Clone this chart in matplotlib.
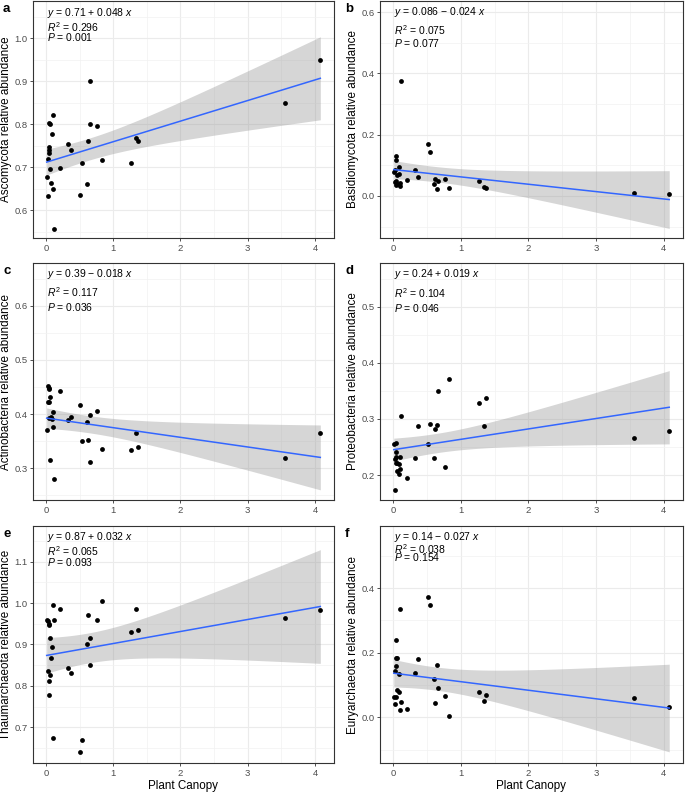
import numpy as np
import matplotlib
matplotlib.use("Agg")
import matplotlib.pyplot as plt
from matplotlib.ticker import MultipleLocator

plt.rcParams["font.family"] = ["Liberation Sans", "DejaVu Sans"]
plt.rcParams["mathtext.fontset"] = "custom"
plt.rcParams["mathtext.rm"] = "Liberation Sans"
plt.rcParams["mathtext.it"] = "Liberation Sans:italic"

# plant canopy (shared by every panel)
canopy = [0.01, 0.03, 0.03, 0.04, 0.04, 0.05, 0.05, 0.06, 0.06, 0.08,
          0.09, 0.10, 0.10, 0.12, 0.21, 0.32, 0.37, 0.51, 0.54, 0.61,
          0.62, 0.65, 0.66, 0.76, 0.83, 1.27, 1.34, 1.37, 3.56, 4.08]

ascomycota = [0.678, 0.634, 0.720, 0.747, 0.803, 0.740, 0.733, 0.800, 0.697, 0.664,
              0.777, 0.821, 0.650, 0.558, 0.699, 0.753, 0.741, 0.635, 0.711, 0.662,
              0.760, 0.900, 0.801, 0.795, 0.717, 0.711, 0.769, 0.762, 0.850, 0.949]
basidiomycota = [0.078, 0.086, 0.045, 0.035, 0.050, 0.131, 0.118, 0.069, 0.040, 0.073,
                 0.096, 0.042, 0.032, 0.376, 0.051, 0.084, 0.062, 0.168, 0.142, 0.040,
                 0.056, 0.022, 0.050, 0.054, 0.026, 0.048, 0.030, 0.025, 0.011, 0.005]
actinobacteria = [0.370, 0.452, 0.423, 0.393, 0.448, 0.447, 0.423, 0.432, 0.315, 0.395,
                  0.391, 0.404, 0.376, 0.280, 0.442, 0.390, 0.395, 0.417, 0.351, 0.385,
                  0.352, 0.398, 0.312, 0.405, 0.336, 0.334, 0.366, 0.339, 0.320, 0.365]
proteobacteria = [0.255, 0.173, 0.228, 0.221, 0.233, 0.258, 0.241, 0.221, 0.208, 0.219,
                  0.201, 0.232, 0.210, 0.305, 0.195, 0.230, 0.287, 0.256, 0.291, 0.230,
                  0.282, 0.289, 0.349, 0.214, 0.371, 0.329, 0.287, 0.337, 0.266, 0.279]
thaumarchaeota = [0.960, 0.956, 0.836, 0.812, 0.950, 0.946, 0.778, 0.916, 0.826, 0.866,
                  0.894, 0.995, 0.674, 0.960, 0.985, 0.842, 0.830, 0.639, 0.670, 0.900,
                  0.971, 0.850, 0.915, 0.960, 1.006, 0.930, 0.986, 0.934, 0.964, 0.982]
euryarchaeota = [0.062, 0.143, 0.041, 0.159, 0.062, 0.182, 0.240, 0.185, 0.085, 0.133,
                 0.077, 0.021, 0.334, 0.048, 0.026, 0.138, 0.179, 0.373, 0.347, 0.119,
                 0.044, 0.163, 0.092, 0.065, 0.004, 0.079, 0.049, 0.068, 0.059, 0.031]

names = ["Ascomycota", "Basidiomycota", "Actinobacteria",
         "Proteobacteria", "Thaumarchaeota", "Euryarchaeota"]
series = [ascomycota, basidiomycota, actinobacteria,
          proteobacteria, thaumarchaeota, euryarchaeota]
letters = ["a", "b", "c", "d", "e", "f"]
equations = ["0.71 + 0.048", "0.086 \u2212 0.024", "0.39 \u2212 0.018",
             "0.24 + 0.019", "0.87 + 0.032", "0.14 \u2212 0.027"]
r2_values = ["0.296", "0.075", "0.117", "0.104", "0.065", "0.038"]
p_values = ["0.001", "0.077", "0.036", "0.046", "0.093", "0.154"]

# layout / style
ylims = [(0.536, 1.086), (-0.137, 0.636), (0.2416, 0.679),
         (0.1555, 0.578), (0.6136, 1.186), (-0.1415, 0.592)]
ysteps = [0.1, 0.2, 0.1, 0.1, 0.1, 0.2]
text_y = [(0.951, 0.891, 0.846), (0.954, 0.877, 0.822), (0.954, 0.877, 0.816),
          (0.953, 0.875, 0.810), (0.955, 0.895, 0.850), (0.955, 0.903, 0.868)]
W, H = 685, 793
lefts = [33, 380]
tops = [1, 263, 526]
ax_w = [301, 303]
ax_h = 237
T_CRIT = 2.048  # qt(0.975, 28)

fig = plt.figure(figsize=(W / 100, H / 100), dpi=100)
x = np.array(canopy)
pad = 0.05 * (x.max() - x.min())

for i in range(6):
    row, col = i // 2, i % 2
    ax = fig.add_axes([lefts[col] / W, 1 - (tops[row] + ax_h) / H,
                       ax_w[col] / W, ax_h / H])
    y = np.array(series[i])

    # linear fit with 95% confidence band
    slope, intercept = np.polyfit(x, y, 1)
    xs = np.linspace(x.min(), x.max(), 100)
    ys = intercept + slope * xs
    resid = y - (intercept + slope * x)
    s = np.sqrt(np.sum(resid ** 2) / (len(x) - 2))
    se = s * np.sqrt(1 / len(x) + (xs - x.mean()) ** 2 / np.sum((x - x.mean()) ** 2))
    ax.fill_between(xs, ys - T_CRIT * se, ys + T_CRIT * se,
                    color="#999999", alpha=0.4, lw=0, zorder=2)
    ax.scatter(x, y, s=12, color="black", lw=0, zorder=3)
    ax.plot(xs, ys, color="#3366FF", lw=1.1, zorder=4)

    ax.set_xlim(x.min() - pad, x.max() + pad)
    ax.set_ylim(*ylims[i])
    ax.xaxis.set_major_locator(MultipleLocator(1))
    ax.xaxis.set_minor_locator(MultipleLocator(0.5))
    ax.yaxis.set_major_locator(MultipleLocator(ysteps[i]))
    ax.yaxis.set_minor_locator(MultipleLocator(ysteps[i] / 2))
    ax.yaxis.set_major_formatter(plt.FormatStrFormatter("%.1f"))
    ax.grid(which="major", color="#EBEBEB", lw=0.8, zorder=0)
    ax.grid(which="minor", color="#F2F2F2", lw=0.5, zorder=0)
    ax.set_axisbelow(True)
    for sp in ax.spines.values():
        sp.set_color("#333333")
        sp.set_linewidth(0.8)
    ax.tick_params(which="major", length=2.5, width=0.6, color="#333333",
                   labelsize=6.8, labelcolor="#4D4D4D", pad=1.5)
    ax.tick_params(which="minor", length=0)

    ax.set_ylabel(names[i] + " relative abundance", fontsize=8.4, labelpad=1.5)
    if row == 2:
        ax.set_xlabel("Plant Canopy", fontsize=8.4, labelpad=2)

    tx = 0.045
    ty = text_y[i]
    ax.text(tx, ty[0], "$y$ = " + equations[i] + " $x$", transform=ax.transAxes,
            fontsize=7.5, va="center")
    ax.text(tx, ty[1], "$R^2$ = " + r2_values[i], transform=ax.transAxes,
            fontsize=7.5, va="center")
    ax.text(tx, ty[2], "$P$ = " + p_values[i], transform=ax.transAxes,
            fontsize=7.5, va="center")

    fig.text((3 + col * 342) / W, 1 - (tops[row] + 8) / H, letters[i],
             fontsize=9.5, fontweight="bold", va="center", ha="left")

plt.savefig("out.png", dpi=100)
plt.close()
